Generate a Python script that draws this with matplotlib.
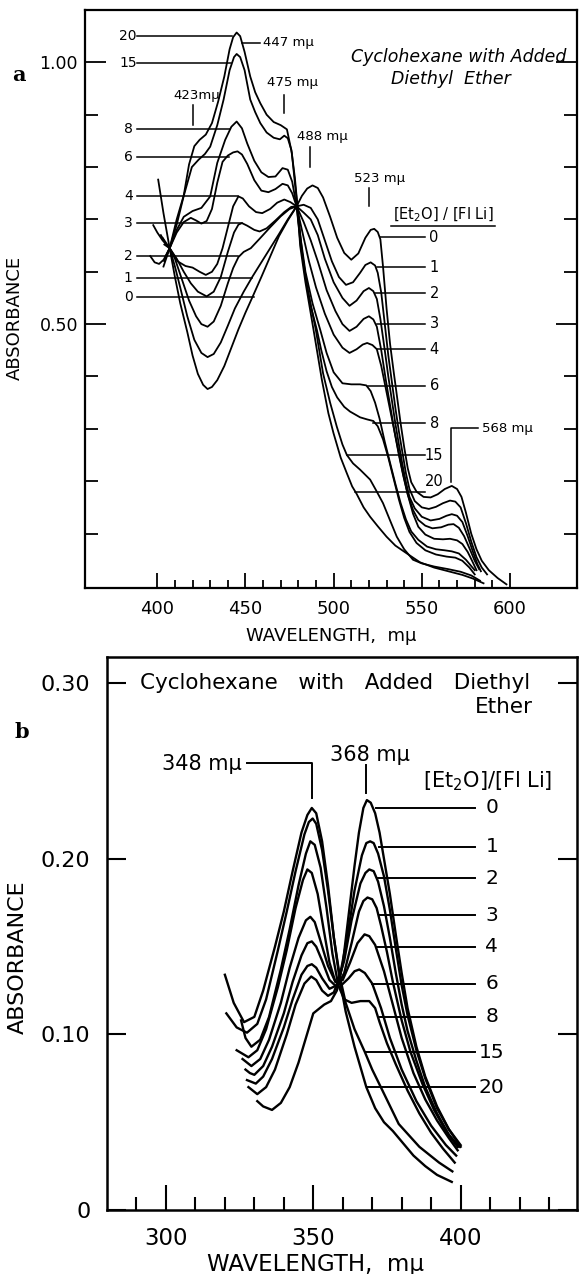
import numpy as np
import matplotlib
matplotlib.use('Agg')
import matplotlib.pyplot as plt

plt.rcParams['font.family'] = ['DejaVu Sans']

# [Et2O]/[FlLi] ratio of each trace
RATIOS = ['0', '1', '2', '3', '4', '6', '8', '15', '20']

# ---- panel a, visible band: (wavelength m-mu, absorbance)
a_0 = np.array([(400.5, 0.776), (403.5, 0.712), (407, 0.645), (410, 0.59), (413, 0.54), (417, 0.485),
                (420, 0.44), (423, 0.405), (426, 0.384), (428.5, 0.376), (431, 0.38), (434, 0.393),
                (438, 0.42), (442, 0.455), (446, 0.49), (450, 0.522), (454, 0.552), (459, 0.59),
                (464, 0.629), (469, 0.668), (474, 0.698), (479, 0.725), (482, 0.745), (485, 0.759),
                (488, 0.765), (491, 0.76), (494, 0.742), (498, 0.705), (502, 0.665), (506, 0.636),
                (510, 0.623), (514, 0.635), (518, 0.665), (521, 0.68), (523, 0.682), (525, 0.676),
                (526.5, 0.662), (528, 0.61), (530, 0.53), (532, 0.462), (534, 0.41), (536, 0.36),
                (538, 0.31), (540, 0.265), (542, 0.225), (544, 0.198), (547, 0.18), (551, 0.17),
                (555, 0.169), (559, 0.175), (563, 0.185), (567, 0.191), (570, 0.185), (572.5, 0.17),
                (575, 0.14), (578, 0.10), (581, 0.07), (584, 0.048), (588, 0.03), (593, 0.015),
                (598, 0.003)])
a_1 = np.array([(397.7, 0.689), (400, 0.675), (403, 0.66), (407, 0.645), (410, 0.61), (413, 0.57),
                (417, 0.515), (421, 0.47), (425, 0.445), (428.5, 0.437), (432, 0.443), (436, 0.465),
                (440, 0.497), (444, 0.53), (449, 0.562), (454, 0.591), (459, 0.618), (464, 0.645),
                (469, 0.672), (474, 0.70), (479, 0.725), (483, 0.728), (487, 0.722), (491, 0.70),
                (495, 0.66), (499, 0.62), (503, 0.59), (507, 0.575), (511, 0.58), (515, 0.598),
                (518, 0.613), (521, 0.618), (523.5, 0.612), (525, 0.598), (527, 0.56), (529, 0.50),
                (531, 0.44), (533, 0.39), (535, 0.34), (537, 0.295), (539, 0.255), (541, 0.215),
                (543, 0.185), (546, 0.162), (550, 0.15), (554, 0.147), (558, 0.151), (562, 0.158),
                (566, 0.163), (569, 0.161), (572, 0.15), (575, 0.12), (578, 0.085), (581, 0.055),
                (584, 0.035), (587, 0.022)])
a_2 = np.array([(402, 0.67), (404.5, 0.655), (407, 0.645), (410, 0.625), (414, 0.585), (418, 0.545),
                (422, 0.515), (425, 0.50), (428.5, 0.495), (432, 0.505), (436, 0.535), (440, 0.578),
                (443, 0.607), (446, 0.628), (449, 0.638), (453, 0.645), (458, 0.663), (464, 0.685),
                (470, 0.706), (475, 0.72), (479, 0.725), (483, 0.713), (487, 0.70), (491, 0.67),
                (495, 0.625), (500, 0.58), (505, 0.55), (509, 0.535), (513, 0.545), (517, 0.563),
                (520, 0.569), (522.5, 0.563), (524.5, 0.548), (526.5, 0.51), (529, 0.45), (531, 0.40),
                (533, 0.355), (535, 0.31), (537, 0.27), (539, 0.232), (541, 0.198), (543, 0.17),
                (546, 0.148), (550, 0.132), (555, 0.125), (560, 0.128), (564, 0.134), (567, 0.137),
                (570, 0.134), (573, 0.122), (576, 0.095), (579, 0.065), (581.5, 0.042), (583.5, 0.028)])
a_3 = np.array([(403, 0.665), (407, 0.645), (411, 0.625), (415, 0.60), (419, 0.578), (423, 0.562),
                (428, 0.553), (432, 0.562), (436, 0.59), (440, 0.638), (443.5, 0.675), (446, 0.69),
                (448, 0.693), (451, 0.688), (455, 0.68), (458, 0.677), (462, 0.683), (467, 0.698),
                (472, 0.714), (476, 0.724), (479, 0.725), (483, 0.695), (487, 0.66), (491, 0.62),
                (496, 0.565), (501, 0.525), (505, 0.50), (509, 0.487), (513, 0.495), (517, 0.51),
                (520, 0.515), (522.5, 0.509), (524.5, 0.495), (527, 0.45), (529.5, 0.395), (532, 0.345),
                (534.5, 0.295), (537, 0.25), (539.5, 0.21), (542, 0.175), (545, 0.145), (548, 0.126),
                (552, 0.115), (556, 0.11), (561, 0.112), (565, 0.117), (568, 0.118), (571, 0.111),
                (574, 0.095), (577, 0.072), (580, 0.048), (582.5, 0.032)])
a_4 = np.array([(404, 0.652), (407, 0.645), (411.5, 0.62), (416, 0.611), (420, 0.608), (424, 0.60),
                (427.5, 0.594), (431, 0.60), (434, 0.615), (437, 0.645), (440, 0.685), (443, 0.725),
                (446, 0.744), (448.5, 0.74), (452, 0.725), (456, 0.714), (459.5, 0.712), (464, 0.72),
                (468, 0.732), (472, 0.738), (475.5, 0.733), (479, 0.725), (482, 0.68), (486, 0.62),
                (490, 0.57), (495, 0.52), (500, 0.48), (505, 0.455), (509, 0.445), (513, 0.452),
                (516.5, 0.461), (519, 0.464), (522, 0.46), (524.5, 0.452), (527, 0.42), (530, 0.37),
                (533, 0.32), (536, 0.27), (539, 0.22), (542, 0.175), (545, 0.138), (548, 0.113),
                (552, 0.098), (557, 0.09), (562, 0.089), (566, 0.09), (570, 0.087), (573, 0.08),
                (576, 0.065), (578.5, 0.048), (581, 0.03)])
a_6 = np.array([(404.5, 0.628), (407, 0.645), (411, 0.675), (415, 0.695), (419, 0.703), (422, 0.698),
                (425, 0.692), (428, 0.697), (431, 0.72), (434, 0.77), (437, 0.81), (440, 0.822),
                (443, 0.828), (445.5, 0.83), (448, 0.824), (451, 0.806), (455, 0.775), (459, 0.755),
                (463, 0.752), (467, 0.758), (471, 0.768), (474, 0.765), (476.5, 0.75), (479, 0.725),
                (481, 0.67), (484, 0.60), (488, 0.54), (492.4, 0.489), (496, 0.445), (500, 0.408),
                (505, 0.387), (510, 0.385), (515, 0.385), (518.5, 0.383), (521, 0.372), (523.5, 0.35),
                (526, 0.32), (529, 0.275), (532, 0.235), (535, 0.195), (538, 0.158), (541, 0.127),
                (544, 0.104), (548, 0.088), (553, 0.075), (558, 0.07), (563, 0.068), (567, 0.066),
                (571, 0.062), (575, 0.05), (578, 0.038), (580, 0.03)])
a_8 = np.array([(404, 0.62), (407, 0.645), (411, 0.68), (415, 0.705), (420, 0.716), (425, 0.722),
                (430, 0.744), (434, 0.808), (438.5, 0.852), (442, 0.877), (445, 0.887), (448, 0.874),
                (451, 0.845), (455, 0.812), (459, 0.79), (463, 0.781), (467, 0.782), (471, 0.798),
                (474, 0.795), (476.5, 0.772), (479, 0.725), (481, 0.66), (484, 0.59), (487, 0.535),
                (490.5, 0.489), (493, 0.45), (496, 0.41), (499, 0.38), (502, 0.36), (506, 0.342),
                (509.3, 0.333), (515, 0.322), (519, 0.318), (522.5, 0.315), (525, 0.305), (528, 0.28),
                (531, 0.245), (534, 0.205), (537, 0.165), (540, 0.13), (543, 0.103), (547, 0.082),
                (552, 0.068), (558, 0.06), (564, 0.056), (569, 0.054), (573, 0.048), (577, 0.035),
                (580, 0.022)])
a_15 = np.array([(403.5, 0.61), (407, 0.645), (411, 0.69), (415, 0.745), (419.6, 0.80), (423.4, 0.814),
                 (427, 0.825), (430, 0.839), (434, 0.88), (437.6, 0.929), (441, 0.985), (443.5, 1.01),
                 (445, 1.016), (447, 1.01), (449.5, 0.985), (452.7, 0.929), (455.5, 0.905), (458.4, 0.884),
                 (462, 0.866), (466, 0.856), (469.5, 0.853), (472, 0.86), (474, 0.855), (476, 0.833),
                 (478, 0.78), (479.5, 0.725), (482, 0.64), (485, 0.57), (489.9, 0.489), (494, 0.406),
                 (498, 0.35), (501.8, 0.304), (505, 0.27), (507.5, 0.25), (511, 0.234), (515, 0.222),
                 (520.7, 0.203), (524, 0.183), (528, 0.158), (532, 0.125), (535.8, 0.094), (540, 0.07),
                 (545, 0.05), (550, 0.043), (557, 0.037), (565, 0.032), (572, 0.027), (578, 0.02),
                 (583, 0.01)])
a_20 = np.array([(396, 0.63), (398.5, 0.618), (401, 0.615), (403.6, 0.623), (407, 0.645), (411, 0.70),
                 (415, 0.746), (418, 0.805), (421, 0.84), (424, 0.852), (427.5, 0.862), (431, 0.884),
                 (434.5, 0.925), (438, 0.973), (441, 1.025), (443, 1.048), (445, 1.057), (447, 1.05),
                 (449.5, 1.02), (452.7, 0.973), (455.5, 0.943), (458.4, 0.922), (462, 0.90), (466, 0.886),
                 (470, 0.88), (473.5, 0.872), (476.3, 0.827), (478, 0.77), (479.5, 0.725), (481, 0.65),
                 (484, 0.58), (488.6, 0.489), (493.3, 0.394), (497, 0.33), (499.9, 0.292), (504, 0.245),
                 (507.5, 0.215), (510.5, 0.19), (513, 0.176), (517, 0.15), (520.7, 0.132), (525, 0.114),
                 (530, 0.094), (535, 0.077), (541.5, 0.062), (549, 0.045), (557, 0.035), (565, 0.028),
                 (573, 0.021), (579, 0.014), (585, 0.005)])

# ---- panel b, ultraviolet band
b_0 = np.array([(331, 0.062), (333, 0.059), (336, 0.057), (339, 0.061), (342, 0.07), (345, 0.084),
                (347.5, 0.098), (350, 0.112), (353.7, 0.117), (356, 0.119), (358, 0.125), (360, 0.14),
                (362, 0.168), (364, 0.196), (365.5, 0.215), (367, 0.229), (368.2, 0.2335), (369.5, 0.232),
                (371, 0.226), (372.5, 0.215), (374, 0.20), (376, 0.18), (378, 0.157), (380, 0.135),
                (382, 0.115), (385, 0.093), (388, 0.076), (392, 0.059), (396, 0.046), (400, 0.037)])
b_1 = np.array([(328, 0.070), (329.5, 0.068), (331, 0.066), (334, 0.07), (337, 0.08), (341, 0.10),
                (344, 0.117), (347, 0.129), (349.3, 0.133), (351, 0.131), (353, 0.125), (355, 0.122),
                (357, 0.124), (359, 0.133), (361.5, 0.155), (364, 0.182), (366.5, 0.202), (368, 0.209),
                (369.3, 0.210), (370.5, 0.209), (372, 0.203), (374, 0.19), (376, 0.171), (378, 0.149),
                (380, 0.128), (382, 0.111), (385, 0.091), (388, 0.075), (392, 0.058), (396, 0.046),
                (400, 0.036)])
b_2 = np.array([(327.5, 0.074), (329, 0.073), (330.5, 0.072), (333, 0.076), (336, 0.086), (340, 0.104),
                (343, 0.12), (346, 0.134), (348, 0.139), (349.5, 0.14), (351, 0.138), (353, 0.132),
                (355.5, 0.126), (358, 0.128), (360.5, 0.142), (363, 0.165), (366, 0.186), (367.7, 0.192),
                (369, 0.194), (370.5, 0.193), (372, 0.187), (374, 0.173), (376, 0.155), (378, 0.135),
                (380, 0.117), (382, 0.102), (385, 0.085), (388, 0.07), (392, 0.055), (396, 0.043),
                (399.5, 0.036)])
b_3 = np.array([(327, 0.080), (328.5, 0.078), (330, 0.077), (333, 0.082), (336, 0.093), (340, 0.112),
                (343, 0.13), (346, 0.145), (348, 0.152), (349.5, 0.153), (351, 0.15), (353, 0.142),
                (355.5, 0.131), (358, 0.127), (360.5, 0.135), (363, 0.152), (365.5, 0.17), (367, 0.176),
                (368.4, 0.178), (370, 0.177), (371.5, 0.172), (373, 0.162), (375, 0.147), (377, 0.13),
                (380, 0.108), (383, 0.09), (387, 0.072), (391, 0.057), (395, 0.045), (399, 0.036)])
b_4 = np.array([(326, 0.086), (327.5, 0.084), (329, 0.082), (332, 0.086), (335, 0.097), (339, 0.118),
                (342, 0.138), (345, 0.155), (347.5, 0.165), (349, 0.167), (350.5, 0.164), (352.5, 0.153),
                (355, 0.139), (357.5, 0.13), (360, 0.131), (362.5, 0.141), (365, 0.152), (367.4, 0.157),
                (369, 0.156), (371, 0.151), (374, 0.136), (377, 0.117), (380, 0.098), (384, 0.078),
                (388, 0.063), (392, 0.051), (396, 0.041), (399, 0.034)])
b_6 = np.array([(324, 0.091), (326, 0.089), (328, 0.087), (331, 0.091), (334, 0.103), (338, 0.127),
                (341, 0.148), (344, 0.172), (346.5, 0.188), (348, 0.194), (349.5, 0.192), (351.5, 0.18),
                (353.5, 0.16), (355.5, 0.141), (357.5, 0.13), (359.5, 0.128), (362, 0.132), (364, 0.136),
                (365.6, 0.137), (367.5, 0.135), (370, 0.129), (373, 0.115), (376, 0.098), (380, 0.08),
                (385, 0.062), (390, 0.048), (395, 0.037), (398.5, 0.031)])
b_8 = np.array([(325.5, 0.108), (327, 0.098), (329, 0.093), (332, 0.097), (335, 0.11), (339, 0.137),
                (342, 0.16), (345, 0.185), (347.5, 0.203), (349, 0.21), (350.5, 0.208), (352.5, 0.195),
                (354.5, 0.172), (356.5, 0.146), (358.5, 0.128), (360.5, 0.12), (363, 0.118), (366, 0.119),
                (369, 0.119), (371, 0.115), (372.5, 0.107), (375, 0.095), (378, 0.083), (382, 0.068),
                (386, 0.055), (390, 0.044), (394, 0.035), (398, 0.027)])
b_15 = np.array([(320.5, 0.112), (324, 0.104), (327.5, 0.101), (331, 0.106), (334, 0.12), (338, 0.148),
                 (341, 0.17), (344, 0.193), (347, 0.214), (348.5, 0.221), (349.8, 0.223), (351, 0.22),
                 (353, 0.205), (355, 0.182), (357, 0.155), (359, 0.133), (361, 0.118), (364, 0.103),
                 (367.5, 0.09), (370, 0.08), (373.5, 0.068), (379, 0.049), (386, 0.036), (392.7, 0.027),
                 (397.2, 0.022)])
b_20 = np.array([(320, 0.134), (323, 0.118), (326.5, 0.107), (330, 0.11), (333, 0.125), (337, 0.15),
                 (340, 0.17), (343, 0.193), (346, 0.215), (348, 0.225), (349.5, 0.229), (351, 0.226),
                 (353, 0.21), (355, 0.185), (357, 0.155), (359, 0.131), (361, 0.113), (364, 0.093),
                 (368, 0.07), (371, 0.058), (374, 0.05), (377, 0.045), (380, 0.039), (384, 0.031),
                 (388, 0.025), (392, 0.02), (397, 0.016)])

A_TRACES = [a_0, a_1, a_2, a_3, a_4, a_6, a_8, a_15, a_20]
B_TRACES = [b_0, b_1, b_2, b_3, b_4, b_6, b_8, b_15, b_20]

# label leaders, in RATIOS order
A_LEFT_Y = [0.552, 0.589, 0.630, 0.693, 0.744, 0.820, 0.872, 0.999, 1.051]
A_LEFT_END = [454.6, 453.6, 446, 448, 446, 440.5, 441.4, 442, 442.5]
A_RIGHT_Y = [0.666, 0.609, 0.559, 0.501, 0.452, 0.382, 0.311, 0.250, 0.180]
A_RIGHT_START = [526.3, 524.5, 523.6, 524.5, 524.8, 519.2, 522.4, 507.7, 511.9]
B_RIGHT_Y = [0.229, 0.207, 0.189, 0.168, 0.150, 0.129, 0.110, 0.090, 0.070]
B_RIGHT_START = [371.3, 372.4, 372.0, 372.4, 371.3, 370.0, 372.5, 367.5, 368.1]

W, H = 579, 1274
fig = plt.figure(figsize=(W / 100, H / 100), dpi=100)
ax_a = fig.add_axes([85 / W, 1 - 588 / H, 492 / W, 578 / H])
ax_b = fig.add_axes([107 / W, 1 - 1210 / H, 470 / W, 553 / H])

# ---------------- panel a
for tr in A_TRACES:
    ax_a.plot(tr[:, 0], tr[:, 1], color='black', lw=1.3, solid_joinstyle='round')

ax_a.set_xlim(359, 638)
ax_a.set_ylim(-0.004, 1.10)
ax_a.set_xticks([400, 450, 500, 550, 600])
ax_a.set_xticks(np.arange(400, 601, 10), minor=True)
ax_a.set_yticks([0.5, 1.0])
ax_a.set_yticklabels(['0.50', '1.00'])
ax_a.set_yticks(np.arange(0.1, 1.01, 0.1), minor=True)
ax_a.tick_params(which='both', direction='in', top=False, right=True, width=1.3, color='black')
ax_a.tick_params(axis='y', which='major', length=15, labelsize=12.5, pad=5)
ax_a.tick_params(axis='y', which='minor', length=9.5)
ax_a.tick_params(axis='x', which='major', length=11, labelsize=13, pad=9)
ax_a.tick_params(axis='x', which='minor', length=6)
for s in ax_a.spines.values():
    s.set_linewidth(1.6)

ax_a.set_xlabel('WAVELENGTH,  m\u03bc', fontsize=13)
ax_a.xaxis.set_label_coords(0.5, -0.067)
ax_a.set_ylabel('ABSORBANCE', fontsize=13)
ax_a.yaxis.set_label_coords(-0.124, 0.467)

lw_a = 1.1
for lab, y, x1 in zip(RATIOS, A_LEFT_Y, A_LEFT_END):
    ax_a.plot([388.5, x1], [y, y], color='black', lw=lw_a)
    ax_a.text(383.5, y, lab, fontsize=10, ha='center', va='center')
for lab, y, x0 in zip(RATIOS, A_RIGHT_Y, A_RIGHT_START):
    ax_a.plot([x0, 552], [y, y], color='black', lw=lw_a)
    if lab == '20':
        ax_a.text(557, 0.199, lab, fontsize=10.5, ha='center', va='center')
    else:
        ax_a.text(557, y, lab, fontsize=10.5, ha='center', va='center')

# peak markers
ax_a.plot([448, 458], [1.037, 1.037], color='black', lw=lw_a)
ax_a.text(460, 1.037, '447 m\u03bc', fontsize=9.5, ha='left', va='center')
ax_a.plot([420.2, 420.2], [0.881, 0.919], color='black', lw=lw_a)
ax_a.text(422.5, 0.936, '423m\u03bc', fontsize=9.5, ha='center', va='center')
ax_a.plot([471.6, 471.6], [0.903, 0.938], color='black', lw=lw_a)
ax_a.text(462, 0.961, '475 m\u03bc', fontsize=9.5, ha='left', va='center')
ax_a.plot([486.4, 486.4], [0.801, 0.839], color='black', lw=lw_a)
ax_a.text(479, 0.858, '488 m\u03bc', fontsize=9.5, ha='left', va='center')
ax_a.plot([520.3, 520.3], [0.725, 0.760], color='black', lw=lw_a)
ax_a.text(526, 0.779, '523 m\u03bc', fontsize=9.5, ha='center', va='center')
ax_a.plot([566.4, 566.4, 582], [0.199, 0.301, 0.301], color='black', lw=lw_a)
ax_a.text(584, 0.301, '568 m\u03bc', fontsize=9.5, ha='left', va='center')

ax_a.text(562, 0.709, r'[Et$_2$O] / [Fl Li]', fontsize=10.5, ha='center', va='center')
ax_a.plot([532.8, 591.4], [0.687, 0.687], color='black', lw=lw_a)
ax_a.text(571, 1.010, 'Cyclohexane with Added', fontsize=12.5, style='italic',
          ha='center', va='center')
ax_a.text(566.6, 0.969, 'Diethyl  Ether', fontsize=12.5, style='italic',
          ha='center', va='center')

# ---------------- panel b
for tr in B_TRACES:
    ax_b.plot(tr[:, 0], tr[:, 1], color='black', lw=1.7, solid_joinstyle='round')

ax_b.set_xlim(280, 439.5)
ax_b.set_ylim(0, 0.315)
ax_b.set_xticks([300, 350, 400])
ax_b.set_xticks(np.arange(290, 431, 10), minor=True)
ax_b.set_yticks([0, 0.1, 0.2, 0.3])
ax_b.set_yticklabels(['0', '0.10', '0.20', '0.30'])
ax_b.tick_params(which='both', direction='in', top=False, right=True, width=1.5, color='black')
ax_b.tick_params(axis='y', which='major', length=14, labelsize=16, pad=12)
ax_b.tick_params(axis='x', which='major', length=18, labelsize=16.5, pad=12)
ax_b.tick_params(axis='x', which='minor', length=9.5)
for s in ax_b.spines.values():
    s.set_linewidth(1.8)

ax_b.set_xlabel('WAVELENGTH,  m\u03bc', fontsize=16.5)
ax_b.xaxis.set_label_coords(0.444, -0.078)
ax_b.set_ylabel('ABSORBANCE', fontsize=16)
ax_b.yaxis.set_label_coords(-0.168, 0.458)

lw_b = 1.4
for lab, y, x0 in zip(RATIOS, B_RIGHT_Y, B_RIGHT_START):
    ax_b.plot([x0, 405], [y, y], color='black', lw=lw_b)
    ax_b.text(410.6, y, lab, fontsize=14.5, ha='center', va='center')

ax_b.plot([327.5, 349.4, 349.4], [0.2549, 0.2549, 0.2346], color='black', lw=lw_b)
ax_b.text(325.6, 0.2543, '348 m\u03bc', fontsize=15, ha='right', va='center')
ax_b.plot([367.9, 367.9], [0.2373, 0.2534], color='black', lw=lw_b)
ax_b.text(369.4, 0.259, '368 m\u03bc', fontsize=15, ha='center', va='center')
ax_b.text(409, 0.244, r'[Et$_2$O]/[Fl Li]', fontsize=15, ha='center', va='center')
ax_b.text(291.2, 0.300, 'Cyclohexane   with   Added   Diethyl', fontsize=15.5,
          ha='left', va='center')
ax_b.text(424.4, 0.2863, 'Ether', fontsize=15.5, ha='right', va='center')

# panel letters
fig.text(18.5 / W, 1 - 75 / H, 'a', fontsize=15, fontweight='bold',
         family='DejaVu Serif', ha='center', va='center')
fig.text(22 / W, 1 - 732 / H, 'b', fontsize=15, fontweight='bold',
         family='DejaVu Serif', ha='center', va='center')

fig.savefig('out.png', dpi=100)
